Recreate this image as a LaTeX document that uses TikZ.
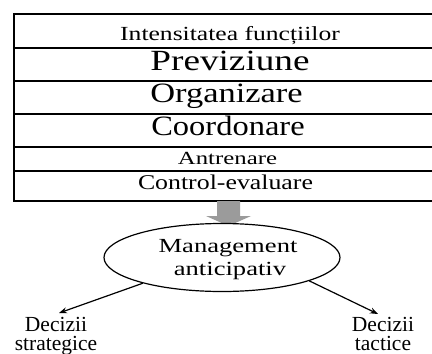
\documentclass[tikz,border=0pt]{standalone}
\usepackage{fontspec}
\setmainfont{Liberation Serif}
\usetikzlibrary{shapes.geometric,arrows.meta}
\definecolor{arrowgray}{RGB}{155,155,155}
\begin{document}
\begin{tikzpicture}[x=1pt,y=-1pt,
  rowline/.style={line width=1.3pt},
  lbl/.style={anchor=base,inner sep=0pt},
  dec/.style={anchor=base,inner sep=0pt,align=center,font=\fontsize{21.5}{18.5}\selectfont},
  conn/.style={line width=1.2pt,-{Stealth[length=8pt,width=6pt]}}]
\useasboundingbox (0,0) rectangle (432,354);
\clip (0,0) rectangle (432,354);
\fill[white] (0,0) rectangle (432,354);
% table of functions
\draw[rowline] (440,14) -- (14,14) -- (14,201) -- (440,201);
\foreach \y in {48,81,114,147,171} \draw[rowline] (14,\y) -- (440,\y);
\node[lbl,font=\fontsize{20}{24}\selectfont] (t1) at (230,40.7) {\scalebox{1.28}[1]{Intensitatea funcțiilor}};
\node[lbl,font=\fontsize{29.3}{34}\selectfont] (t2) at (230,70.7) {\scalebox{1.27}[1]{Previziune}};
\node[lbl,font=\fontsize{28}{33}\selectfont] (t3) at (226.5,102.7) {\scalebox{1.23}[1]{Organizare}};
\node[lbl,font=\fontsize{28}{33}\selectfont] (t4) at (228,135) {\scalebox{1.16}[1]{Coordonare}};
\node[lbl,font=\fontsize{18.5}{22}\selectfont] (t5) at (227.5,164.3) {\scalebox{1.34}[1]{Antrenare}};
\node[lbl,font=\fontsize{21}{25}\selectfont] (t6) at (225.5,189.3) {\scalebox{1.23}[1]{Control-evaluare}};
% grey block arrow
\fill[arrowgray] (217,201) -- (240,201) -- (240,216) -- (251,216) -- (228.5,226) -- (206,216) -- (217,216) -- cycle;
% ellipse
\node[ellipse,draw,line width=1.2pt,fill=white,minimum width=236pt,minimum height=68pt,inner sep=0pt] (ell) at (222,257.5) {};
\node[lbl,font=\fontsize{20}{24}\selectfont] (m1) at (228,252) {\scalebox{1.33}[1]{Management}};
\node[lbl,font=\fontsize{20}{24}\selectfont] (m2) at (230,275) {\scalebox{1.33}[1]{anticipativ}};
% decisions
\coordinate (tipL) at (59,313);
\coordinate (tipR) at (378,314);
\draw[conn] (ell.198) -- (tipL);
\draw[conn] (ell.-15.3) -- (tipR);
\node[dec] (dstrat) at (56,350) {Decizii\\strategice};
\node[dec] (dtact) at (383,350) {Decizii\\tactice};
\end{tikzpicture}
\end{document}
